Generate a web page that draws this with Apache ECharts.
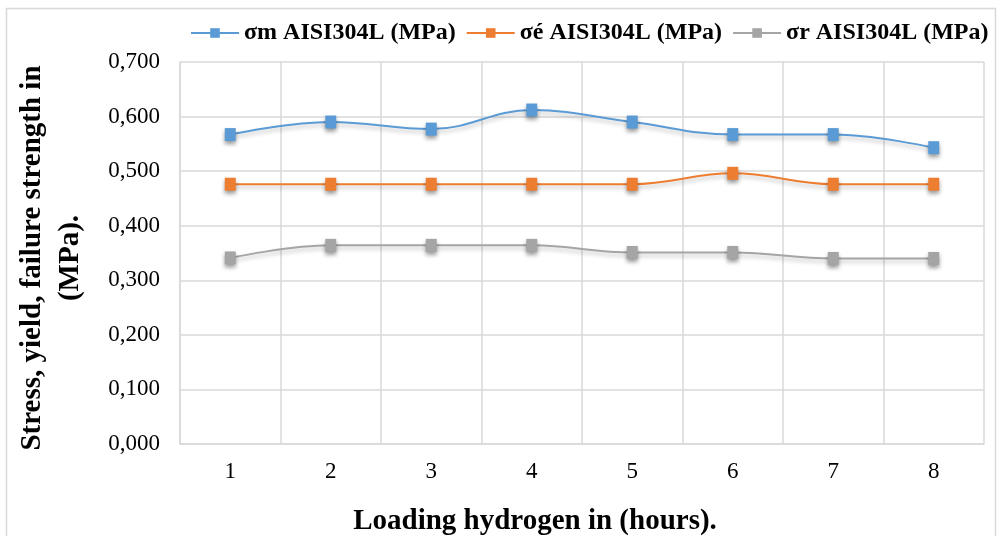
<!DOCTYPE html>
<html>
<head>
<meta charset="utf-8">
<script src="https://cdn.jsdelivr.net/npm/echarts@6/dist/echarts.min.js"></script>
<style>
  html, body { margin: 0; padding: 0; background: #fff; }
  #chart { width: 1000px; height: 536px; }
</style>
</head>
<body>
<div id="chart"></div>
<script>
const hours = ['1', '2', '3', '4', '5', '6', '7', '8'];
const sigmaM = [0.567, 0.590, 0.577, 0.612, 0.590, 0.567, 0.567, 0.543];
const sigmaE = [0.476, 0.476, 0.476, 0.476, 0.476, 0.496, 0.476, 0.476];
const sigmaR = [0.341, 0.364, 0.364, 0.364, 0.351, 0.351, 0.340, 0.340];
const names = ['σm AISI304L (MPa)', 'σé AISI304L (MPa)', 'σr AISI304L (MPa)'];
const colors = ['#5b9bd5', '#ed7d31', '#a5a5a5'];

const font = '"Liberation Serif", "Times New Roman", serif';
const chart = echarts.init(document.getElementById('chart'));

function line(name, data, color) {
  return {
    name, type: 'line', data, smooth: 0.4,
    symbol: 'rect', symbolSize: [11, 13],
    lineStyle: { color, width: 2, shadowColor: 'rgba(0,0,0,0.25)', shadowBlur: 4, shadowOffsetY: 3 },
    itemStyle: { color, shadowColor: 'rgba(0,0,0,0.4)', shadowBlur: 4, shadowOffsetY: 3 },
  };
}

chart.setOption({
  animation: false,
  color: colors,
  textStyle: { fontFamily: font },
  graphic: [{
    type: 'rect', shape: { x: 6.5, y: 8.5, width: 989, height: 540 },
    style: { fill: 'none', stroke: '#d9d9d9', lineWidth: 1.5 }, silent: true,
  }],
  legend: {
    top: 21, left: 190, width: 808, padding: 0, itemWidth: 48, itemHeight: 12, itemGap: 10,
    textStyle: { fontFamily: font, fontSize: 24, fontWeight: 'bold', color: '#000' },
  },
  grid: { left: 180, right: 16, top: 62, bottom: 92, outerBoundsMode: 'none', containLabel: false },
  xAxis: {
    type: 'category', data: hours, boundaryGap: true,
    name: 'Loading hydrogen in (hours).', nameLocation: 'middle', nameGap: 63,
    nameTextStyle: { fontFamily: font, fontSize: 29, fontWeight: 'bold', color: '#000', padding: [0, 94, 0, 0] },
    axisLine: { lineStyle: { color: '#d9d9d9', width: 1.5 } },
    axisTick: { show: false },
    axisLabel: { color: '#000', fontSize: 23, margin: 16, fontFamily: font },
    splitLine: { show: true, lineStyle: { color: '#d9d9d9', width: 1.5 } },
  },
  yAxis: {
    type: 'value', min: 0, max: 0.7, interval: 0.1,
    name: 'Stress, yield, failure strength in\n(MPa).', nameLocation: 'middle', nameGap: 90, nameRotate: 90,
    nameTextStyle: { fontFamily: font, fontSize: 29, fontWeight: 'bold', color: '#000', lineHeight: 38, align: 'center',
      padding: [0, 10, 0, 0] },
    axisLine: { show: true, lineStyle: { color: '#d9d9d9', width: 1.5 } },
    axisTick: { show: false },
    axisLabel: { color: '#000', fontSize: 23, margin: 20, fontFamily: font,
      formatter: v => v.toFixed(3).replace('.', ',') },
    splitLine: { lineStyle: { color: '#d9d9d9', width: 1.5 } },
  },
  series: [
    line(names[0], sigmaM, colors[0]),
    line(names[1], sigmaE, colors[1]),
    line(names[2], sigmaR, colors[2]),
  ],
});
</script>
</body>
</html>
